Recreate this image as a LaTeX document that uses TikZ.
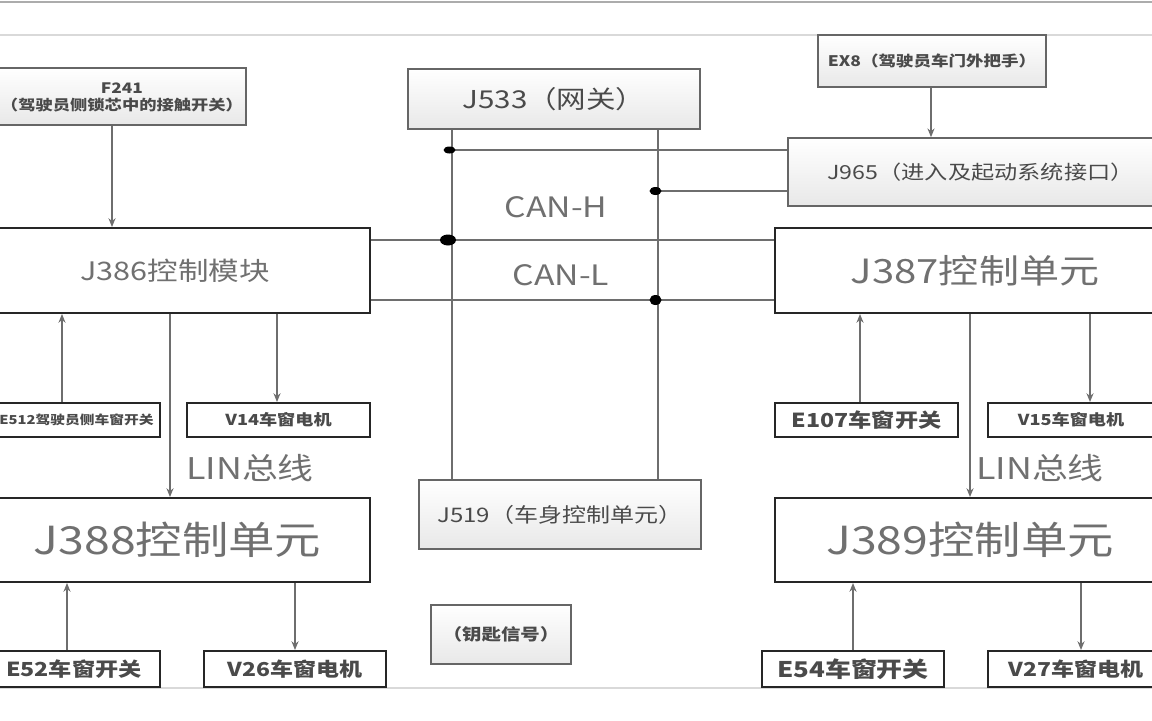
\documentclass[tikz,border=0pt]{standalone}
\usepackage{fontspec}
\setmainfont{Noto Sans CJK SC}[FakeStretch=1.2]
\usetikzlibrary{arrows.meta,fit}
\definecolor{txt}{HTML}{4A4A4A}
\definecolor{ltxt}{HTML}{707070}
\definecolor{ln}{HTML}{6E6E6E}
\definecolor{gfill}{HTML}{E8E8E8}
\definecolor{gbord}{HTML}{666666}
\tikzset{
  gbox/.style={draw=gbord, line width=0.9pt, top color=white, bottom color=gfill, inner sep=0pt},
  wbox/.style={draw=black!85, line width=1.1pt, fill=white, inner sep=0pt},
  ct/.style={font=\fontsize{#1}{#1}\selectfont, text height={0.76*#1pt}, text depth=0pt},
  ctb/.style={ct=#1, font=\bfseries\fontsize{#1}{#1}\selectfont},
  arr/.style={draw=ln, line width=0.9pt, -{Stealth[length=5pt,width=4pt]}},
  wire/.style={draw=ln, line width=0.9pt},
  sep/.style={draw=gray!30, line width=0.9pt},
  lbl/.style={text=ltxt, inner sep=0pt},
  dtx/.style={text=txt, inner sep=0pt}
}
\begin{document}
\begin{tikzpicture}[x=0.02cm, y=-0.02cm]
\useasboundingbox (0,0) rectangle (1152,720);
\clip (0,0) rectangle (1152,720);
\fill[white] (0,0) rectangle (1152,720);
% frame lines
\draw[draw=gray!65, line width=1.6pt] (0,2) -- (1152,2);
\draw[sep] (0,35) -- (1152,35);
\draw[sep] (0,688) -- (1152,688);

% gray boxes
\node[gbox, fit={(-5,68) (246,125)}] (f241) {};
\node[dtx, ctb=8.2] (f241a) at (122,88) {F241};
\node[dtx, ctb=8.2] (f241b) at (122,105) {（驾驶员侧锁芯中的接触开关）};
\node[gbox, fit={(408,69) (700,129)}] (j533) {};
\node[dtx, ct=14] (j533t) at (j533.center) {J533（网关）};
\node[gbox, fit={(818,35) (1046,87)}] (ex8) {};
\node[dtx, ctb=8.3] (ex8t) at (ex8.center) {EX8（驾驶员车门外把手）};
\node[gbox, fit={(788,138) (1165,206)}] (j965) {};
\node[dtx, ct=11] (j965t) at ([xshift=0.08cm]j965.center) {J965（进入及起动系统接口）};
\node[gbox, fit={(419,480) (701,549)}] (j519) {};
\node[dtx, ct=11.4] (j519t) at (j519.center) {J519（车身控制单元）};
\node[gbox, fit={(431,605) (571,664)}] (key) {};
\node[dtx, ctb=9.2] (keyt) at (key.center) {（钥匙信号）};

% control units
\node[wbox, fit={(-5,228) (370,313)}] (j386) {};
\node[lbl, ct=14.5] (j386t) at ([xshift=-0.15cm]j386.center) {J386控制模块};
\node[wbox, fit={(775,228) (1165,313)}] (j387) {};
\node[lbl, ct=19] (j387t) at ([xshift=0.1cm]j387.center) {J387控制单元};
\node[wbox, fit={(-5,498) (370,582)}] (j388) {};
\node[lbl, ct=22] (j388t) at ([xshift=-0.1cm]j388.center) {J388控制单元};
\node[wbox, fit={(775,498) (1165,582)}] (j389) {};
\node[lbl, ct=22] (j389t) at (j389.center) {J389控制单元};

% small boxes
\node[wbox, fit={(-5,403) (160,437)}] (e512) {};
\node[dtx, ctb=7, anchor=east] (e512t) at (154,420) {E512驾驶员侧车窗开关};
\node[wbox, fit={(187,403) (370,437)}] (v14) {};
\node[dtx, ctb=8.6] (v14t) at (v14.center) {V14车窗电机};
\node[wbox, fit={(775,403) (958,437)}] (e107) {};
\node[dtx, ctb=11] (e107t) at (e107.center) {E107车窗开关};
\node[wbox, fit={(988,403) (1165,437)}] (v15) {};
\node[dtx, ctb=8.6] (v15t) at (1071,420) {V15车窗电机};
\node[wbox, fit={(-5,651) (160,687)}] (e52) {};
\node[dtx, ctb=11, anchor=east] (e52t) at (142,669) {E52车窗开关};
\node[wbox, fit={(204,651) (386,687)}] (v26) {};
\node[dtx, ctb=10.9] (v26t) at (v26.center) {V26车窗电机};
\node[wbox, fit={(762,651) (944,687)}] (e54) {};
\node[dtx, ctb=12.3] (e54t) at (e54.center) {E54车窗开关};
\node[wbox, fit={(988,651) (1165,687)}] (v27) {};
\node[dtx, ctb=10.9] (v27t) at (1076,669) {V27车窗电机};

% labels
\node[lbl, ct=16] (canh) at (556,207) {CAN-H};
\node[lbl, ct=16] (canl) at (561,275) {CAN-L};
\node[lbl, ct=17] (lin1) at (250,468) {LIN总线};
\node[lbl, ct=17] (lin2) at (1040,468) {LIN总线};

% x positions
\coordinate (xa) at (112,0);
\coordinate (xb) at (931,0);
\coordinate (xc) at (452,0);
\coordinate (xd) at (658,0);
\coordinate (x1) at (62,0);
\coordinate (x2) at (277,0);
\coordinate (x3) at (170,0);
\coordinate (x4) at (67,0);
\coordinate (x5) at (295,0);
\coordinate (x6) at (860,0);
\coordinate (x7) at (1090,0);
\coordinate (x8) at (970,0);
\coordinate (x9) at (853,0);
\coordinate (x10) at (1081,0);
\coordinate (yH) at (0,240);
\coordinate (yL) at (0,300);
\coordinate (y1) at (0,150);
\coordinate (y2) at (0,191);

% bus lines
\draw[wire] (j533.south -| xc) -- (j519.north -| xc);
\draw[wire] (j533.south -| xd) -- (j519.north -| xd);
\coordinate (n1) at (xc |- y1);
\coordinate (n2) at (xd |- y2);
\coordinate (nH) at (xc |- yH);
\coordinate (nL) at (xd |- yL);
\draw[wire] (n1) -- (j965.west |- y1);
\draw[wire] (n2) -- (j965.west |- y2);
\draw[wire] (j386.east |- yH) -- (j387.west |- yH);
\draw[wire] (j386.east |- yL) -- (j387.west |- yL);
\fill[black] ([xshift=-0.05cm]n1) ellipse [x radius=6, y radius=3.5];
\fill[black] ([xshift=-0.08cm]nH) ellipse [x radius=8, y radius=5.5];
\fill[black] ([xshift=-0.05cm]n2) ellipse [x radius=6, y radius=4];
\fill[black] ([xshift=-0.05cm]nL) ellipse [x radius=6, y radius=5];

% arrows
\draw[arr] (f241.south -| xa) -- (j386.north -| xa);
\draw[arr] (ex8.south -| xb) -- (j965.north -| xb);
\draw[arr] (e512.north -| x1) -- (j386.south -| x1);
\draw[arr] (j386.south -| x2) -- (v14.north -| x2);
\draw[arr] (j386.south -| x3) -- (j388.north -| x3);
\draw[arr] (e52.north -| x4) -- (j388.south -| x4);
\draw[arr] (j388.south -| x5) -- (v26.north -| x5);
\draw[arr] (e107.north -| x6) -- (j387.south -| x6);
\draw[arr] (j387.south -| x7) -- (v15.north -| x7);
\draw[arr] (j387.south -| x8) -- (j389.north -| x8);
\draw[arr] (e54.north -| x9) -- (j389.south -| x9);
\draw[arr] (j389.south -| x10) -- (v27.north -| x10);
\end{tikzpicture}
\end{document}
